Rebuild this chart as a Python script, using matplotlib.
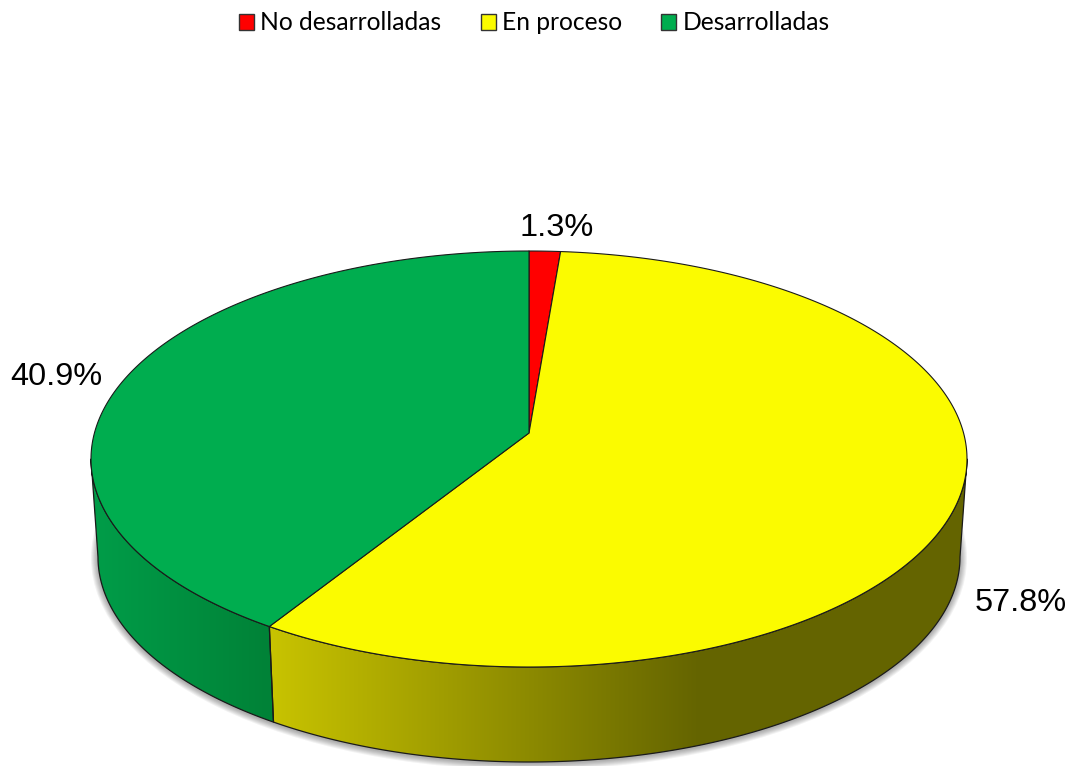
import numpy as np
import matplotlib
matplotlib.use("Agg")
import matplotlib.pyplot as plt
from matplotlib.patches import Patch, Polygon, Ellipse

categories = ["No desarrolladas", "En proceso", "Desarrolladas"]
values = [1.3, 57.8, 40.9]
value_labels = ["1.3%", "57.8%", "40.9%"]
colors = ["#ff0000", "#fbfb00", "#00ad4f"]

fig = plt.figure(figsize=(10.76, 7.66), dpi=100)
ax = fig.add_axes([0, 0, 1, 1])
ax.set_xlim(0, 1076)
ax.set_ylim(766, 0)
ax.axis("off")

# pie geometry in the figure (perspective look: apex above the ellipse centre)
CX, CY, A, B = 529, 459, 438, 208
BCY, BA, BB = 557, 431, 205
APEX = (529, 433)
EDGE = "#1a1a1a"


def warp(theta):
    return theta - 6.65 * np.sin(np.radians(theta))


def top_pt(psi):
    r = np.radians(psi)
    return np.c_[CX + A * np.sin(r), CY - B * np.cos(r)]


def bot_pt(psi):
    r = np.radians(psi)
    return np.c_[CX + BA * np.sin(r), BCY - BB * np.cos(r)]


# soft shadow under the body
for grow in np.arange(7, 0, -1):
    ax.add_patch(Ellipse((CX, BCY + 1), 2 * (BA + grow), 2 * (BB + grow),
                         fc="#000000", ec="none", alpha=0.05, zorder=1))

bounds = np.concatenate([[0], np.cumsum(values)]) / np.sum(values) * 360
psi = warp(bounds)

# rim colour ramps: (x start, rgb start, x end, rgb end)
ramps = {
    1: (272, (200, 195, 0), 700, (100, 100, 0)),
    2: (98, (0, 156, 72), 268, (0, 130, 55)),
}
xs = np.arange(0, 1076)
for i, (x0, c0, x1, c1) in ramps.items():
    lo, hi = max(psi[i], 90), min(psi[i + 1], 270)
    t = np.linspace(lo, hi, 200)
    outline = np.vstack([top_pt(t), bot_pt(t[::-1])])
    frac = np.clip((xs - x0) / (x1 - x0), 0, 1)[None, :, None]
    img = (np.array(c0)[None, None, :] * (1 - frac) + np.array(c1)[None, None, :] * frac) / 255
    im = ax.imshow(img, extent=(0, 1076, 766, 0), aspect="auto", zorder=2, interpolation="nearest")
    poly = Polygon(outline, closed=True, fc="none", ec=EDGE, lw=0.9, zorder=3, joinstyle="round")
    ax.add_patch(poly)
    im.set_clip_path(poly)

# top face
for i, c in enumerate(colors):
    t = np.linspace(psi[i], psi[i + 1], 300)
    pts = np.vstack([[APEX], top_pt(t)])
    ax.add_patch(Polygon(pts, closed=True, fc=c, ec=EDGE, lw=0.8, zorder=4, joinstyle="round"))

ax.set_xlim(0, 1076)
ax.set_ylim(766, 0)

# value labels
label_pos = [(557, 228), (1021, 603), (56, 377)]
for txt, (x, y) in zip(value_labels, label_pos):
    ax.text(x, y, txt, ha="center", va="center", fontsize=23.4,
            family="Liberation Sans", color="black", zorder=6)

# legend
handles = [Patch(fc=c, ec="#333333", lw=1.0) for c in colors]
ax.legend(handles, categories, loc="center", bbox_to_anchor=(534.5, 23),
          bbox_transform=ax.transData, ncol=3, frameon=False,
          prop={"family": "Lato", "size": 17.7}, handlelength=0.61, handleheight=0.61,
          handletextpad=0.25, columnspacing=1.6, borderpad=0, borderaxespad=0)

fig.savefig("out.png", dpi=100, facecolor="white")
